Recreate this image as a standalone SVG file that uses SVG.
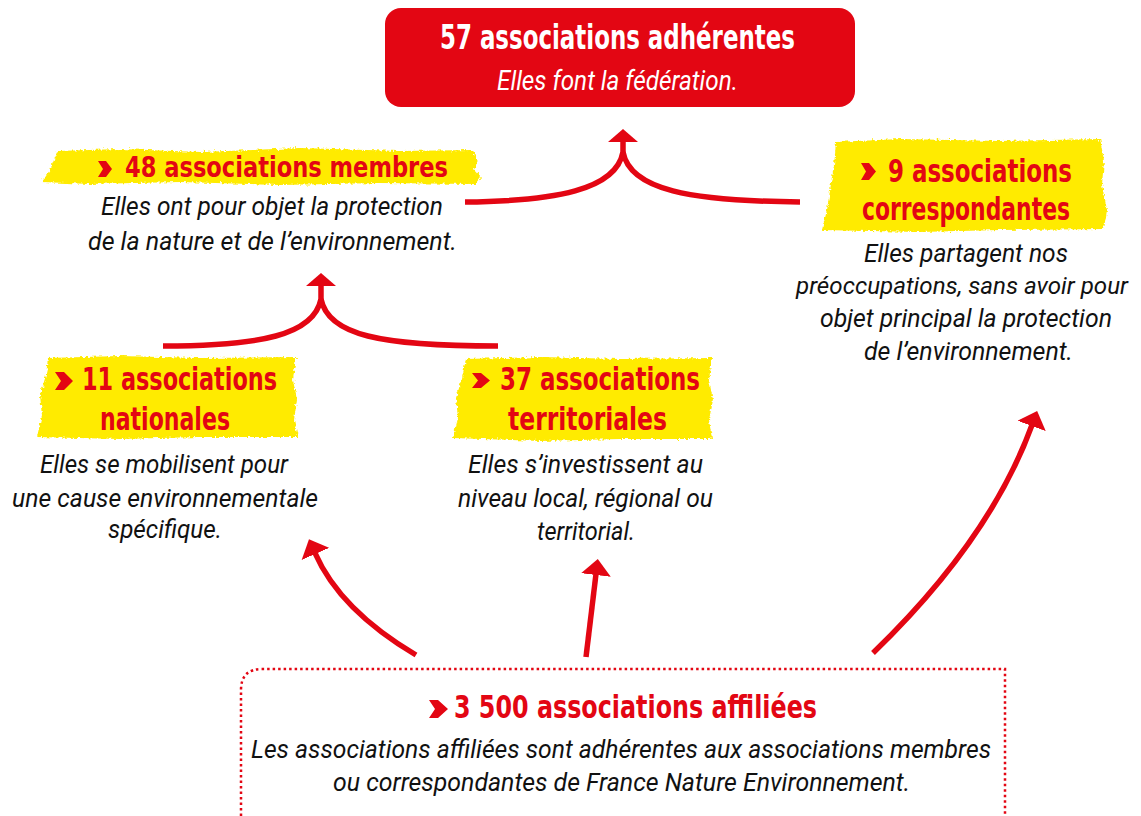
<svg xmlns="http://www.w3.org/2000/svg" width="1141" height="816" viewBox="0 0 1141 816">
<style>
.title{font-family:"DejaVu Sans","Liberation Sans",sans-serif;font-stretch:condensed;font-weight:bold;fill:#E30613;}
.ttl-w{fill:#ffffff;}
.body{font-family:Roboto,"Liberation Sans",sans-serif;font-style:italic;font-size:26px;fill:#111111;}
.brush{fill:#FFEB00;filter:url(#rough);}
.chev{fill:#E30613;}
.arr{fill:none;stroke:#E30613;stroke-width:5.5;stroke-linecap:butt;}
</style>
<defs>
<filter id="rough" x="-5%" y="-20%" width="110%" height="140%">
<feTurbulence type="fractalNoise" baseFrequency="0.35" numOctaves="2" seed="3" result="n"/>
<feDisplacementMap in="SourceGraphic" in2="n" scale="5" xChannelSelector="R" yChannelSelector="G"/>
</filter>
<marker id="head" markerUnits="userSpaceOnUse" viewBox="0 0 16 30" refX="1" refY="15" markerWidth="16" markerHeight="30" orient="auto">
<path d="M0,0 L16,15 L0,30 z" fill="#E30613"/>
</marker>
<marker id="headflat" markerUnits="userSpaceOnUse" viewBox="0 0 13 30" refX="1" refY="15" markerWidth="13" markerHeight="30" orient="auto">
<path d="M0,0 L13,15 L0,30 z" fill="#E30613"/>
</marker>
</defs>
<rect width="1141" height="816" fill="#ffffff"/>

<g id="connectors">
<path class="arr" d="M465,202 C555,201 616,190 623,152 L623,141" marker-end="url(#headflat)"/>
<path class="arr" d="M800,202 C690,201 630,190 623,152"/>
<path class="arr" d="M163,346 C260,346 314,335 321,299 L321,285" marker-end="url(#headflat)"/>
<path class="arr" d="M498,346 C380,346 328,335 321,299"/>
<path class="arr" d="M416,655 Q340,610 315,553" marker-end="url(#head)"/>
<path class="arr" d="M586,657 L596,574" marker-end="url(#head)"/>
<path class="arr" d="M873,653 Q990,540 1032,425" marker-end="url(#head)"/>
</g>

<g id="node-adherentes">
<rect x="385" y="8" width="470" height="99" rx="16" fill="#E30613"/>
<text class="title ttl-w" x="440" y="49" font-size="33" textLength="355" lengthAdjust="spacingAndGlyphs">57 associations adhérentes</text>
<text class="body" x="497" y="90" style="fill:#ffffff;font-size:27px" textLength="241" lengthAdjust="spacingAndGlyphs">Elles font la fédération.</text>
</g>

<g id="node-membres">
<path class="brush" d="M58,151 L120,149 L200,152 L300,148 L400,151 L472,150 L478,160 L474,170 L481,178 L476,184 L380,183 L280,185 L180,182 L90,184 L42,182 L50,170 L54,160 z"/>
<path class="chev" d="M98,161 L106,161 L112,169 L106,177 L98,177 L103,169 z"/>
<text class="title" x="125" y="177" font-size="28" textLength="323" lengthAdjust="spacingAndGlyphs">48 associations membres</text>
<text class="body" x="101" y="215" textLength="342" lengthAdjust="spacingAndGlyphs">Elles ont pour objet la protection</text>
<text class="body" x="88" y="250" textLength="369" lengthAdjust="spacingAndGlyphs">de la nature et de l’environnement.</text>
</g>

<g id="node-correspondantes">
<path class="brush" d="M836,142 L900,139 L1000,141 L1100,139 L1104,160 L1102,185 L1107,210 L1104,229 L1000,230 L920,232 L822,230 L827,210 L830,190 L834,165 z"/>
<path class="chev" d="M861,163 L869,163 L876,171.5 L869,180 L861,180 L866,171.5 z"/>
<text class="title" x="888" y="182" font-size="32" textLength="184" lengthAdjust="spacingAndGlyphs">9 associations</text>
<text class="title" x="862" y="220" font-size="32" textLength="208" lengthAdjust="spacingAndGlyphs">correspondantes</text>
<text class="body" x="864" y="262" textLength="204" lengthAdjust="spacingAndGlyphs">Elles partagent nos</text>
<text class="body" x="796" y="294" style="font-size:24px" textLength="332" lengthAdjust="spacingAndGlyphs">préoccupations, sans avoir pour</text>
<text class="body" x="820" y="327" textLength="292" lengthAdjust="spacingAndGlyphs">objet principal la protection</text>
<text class="body" x="864" y="360" textLength="209" lengthAdjust="spacingAndGlyphs">de l’environnement.</text>
</g>

<g id="node-nationales">
<path class="brush" d="M48,358 L120,356 L200,358 L296,357 L293,380 L297,400 L294,420 L298,437 L200,437 L120,439 L37,437 L42,415 L40,395 L46,375 z"/>
<path class="chev" d="M55,372 L64,372 L73,381 L64,390 L55,390 L61,381 z"/>
<text class="title" x="82" y="390" font-size="32" textLength="195" lengthAdjust="spacingAndGlyphs">11 associations</text>
<text class="title" x="100" y="430" font-size="32" textLength="130" lengthAdjust="spacingAndGlyphs">nationales</text>
<text class="body" x="40" y="473" textLength="248" lengthAdjust="spacingAndGlyphs">Elles se mobilisent pour</text>
<text class="body" x="12" y="507" textLength="306" lengthAdjust="spacingAndGlyphs">une cause environnementale</text>
<text class="body" x="108" y="538" textLength="114" lengthAdjust="spacingAndGlyphs">spécifique.</text>
</g>

<g id="node-territoriales">
<path class="brush" d="M466,359 L540,357 L620,359 L712,358 L709,380 L713,400 L709,420 L712,439 L620,439 L540,441 L453,438 L458,418 L456,398 L462,378 z"/>
<path class="chev" d="M472,373 L481,373 L490,380.5 L481,388 L472,388 L478,380.5 z"/>
<text class="title" x="500" y="390" font-size="32" textLength="200" lengthAdjust="spacingAndGlyphs">37 associations</text>
<text class="title" x="508" y="430" font-size="32" textLength="159" lengthAdjust="spacingAndGlyphs">territoriales</text>
<text class="body" x="468" y="473" textLength="235" lengthAdjust="spacingAndGlyphs">Elles s’investissent au</text>
<text class="body" x="458" y="507" textLength="255" lengthAdjust="spacingAndGlyphs">niveau local, régional ou</text>
<text class="body" x="537" y="540" textLength="98" lengthAdjust="spacingAndGlyphs">territorial.</text>
</g>

<g id="node-affiliees">
<path d="M241,816 L241,690 Q241,669 262,669 L1005,669 L1005,816" fill="none" stroke="#E30613" stroke-width="2.5" stroke-dasharray="2.5 3"/>
<path class="chev" d="M429,700 L438,700 L448,709 L438,718 L429,718 L435,709 z"/>
<text class="title" x="454" y="718" font-size="32" textLength="363" lengthAdjust="spacingAndGlyphs">3 500 associations affiliées</text>
<text class="body" x="251" y="758" textLength="740" lengthAdjust="spacingAndGlyphs">Les associations affiliées sont adhérentes aux associations membres</text>
<text class="body" x="333" y="791" textLength="577" lengthAdjust="spacingAndGlyphs">ou correspondantes de France Nature Environnement.</text>
</g>
</svg>
